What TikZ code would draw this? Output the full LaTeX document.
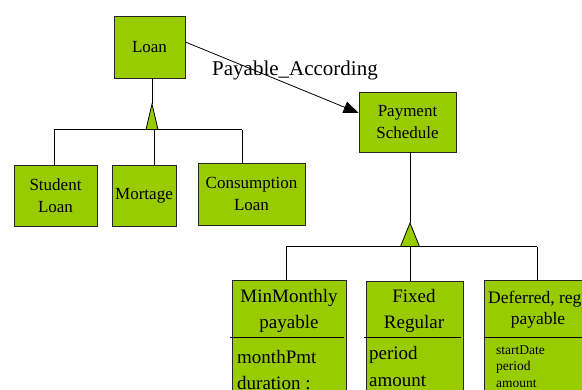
\documentclass[tikz,border=0pt]{standalone}
\usepackage{fontspec}
\setmainfont{Liberation Serif}
\usetikzlibrary{arrows.meta}
\definecolor{boxgreen}{HTML}{99CC00}
\begin{document}
\begin{tikzpicture}[x=1pt,y=-1pt,
  cls/.style={draw=black!85,line width=0.8pt,fill=boxgreen,rectangle,inner sep=0pt,align=center,font=\fontsize{17}{22}\selectfont},
  conn/.style={draw=black,line width=0.8pt},
  inher/.style={draw=black,line width=0.8pt,fill=boxgreen,line join=miter},
  bigtxt/.style={font=\fontsize{19}{26.5}\selectfont,align=center,inner sep=0pt},
  attr/.style={font=\fontsize{19}{26.5}\selectfont,align=left,inner sep=0pt,anchor=west},
  smallattr/.style={font=\fontsize{13.5}{16.5}\selectfont,align=left,inner sep=0pt,anchor=west},
  lbl/.style={font=\fontsize{21}{24}\selectfont,inner sep=0pt}]
\useasboundingbox (0,0) rectangle (582,389);
% upper part
\node[cls,minimum width=71pt,minimum height=62pt] (loan) at (149.5,47) {Loan};
\node[cls,minimum width=97pt,minimum height=60pt] (pay) at (407.5,122) {Payment\\Schedule};
\node[cls,minimum width=83pt,minimum height=61pt] (stud) at (55.5,195.5) {Student\\Loan};
\node[cls,minimum width=64pt,minimum height=61pt] (mort) at (144,195.5) {Mortage};
\node[cls,minimum width=107pt,minimum height=62pt] (cons) at (251.5,194) {Consumption\\Loan};
% association
\draw[conn,-{Triangle[length=15pt,width=12pt]}] ([yshift=5pt]loan.east) -- ([yshift=9pt]pay.west);
\node[lbl,anchor=base west] (assoc) at (212,75) {Payable\_According};
% inheritance 1
\coordinate (t1) at (152,104);
\coordinate (t1b) at (152,129.5);
\coordinate (barL) at (54,129.5);
\coordinate (barM) at (154,129.5);
\coordinate (barR) at (242,129.5);
\draw[conn] (loan.south -| t1) -- (t1);
\draw[conn] (barL) -- (barR);
\draw[conn] (barL) -- (barL |- stud.north);
\draw[conn] (barM) -- (barM |- mort.north);
\draw[conn] (barR) -- (barR |- cons.north);
\draw[inher] (t1) -- ([xshift=6pt]t1b) -- ([xshift=-6pt]t1b) -- cycle;
% lower part
\node[cls,minimum width=114pt,minimum height=120pt] (minm) at (289,340) {};
\node[cls,minimum width=97pt,minimum height=119pt] (fixd) at (414.5,340.5) {};
\node[cls,minimum width=116pt,minimum height=120pt] (defr) at (542,340) {};
\draw[conn] ([xshift=-2pt]minm.west |- 0,337) -- ([xshift=-2pt]minm.east |- 0,337);
\draw[conn] ([xshift=-2pt]fixd.west |- 0,337) -- ([xshift=-2pt]fixd.east |- 0,337);
\draw[conn] (defr.west |- 0,337) -- (defr.east |- 0,337);
\node[bigtxt] (minmT) at (289,311) {MinMonthly\\payable};
\node[bigtxt] (fixdT) at (414,311) {Fixed\\Regular};
\node[font=\fontsize{17.5}{21}\selectfont,inner sep=0pt,anchor=west] (defrT1) at (488,299) {Deferred, reg};
\node[font=\fontsize{17.5}{21}\selectfont,inner sep=0pt] (defrT2) at (538,320) {payable};
\node[attr] (minmA) at (237,370) {monthPmt\\duration :};
\node[attr] (fixdA) at (369,366.5) {period\\amount};
\node[smallattr] (defrA) at (496,366.5) {startDate\\period\\amount};
% inheritance 2
\coordinate (t2) at (410,223);
\coordinate (t2b) at (410,246.5);
\coordinate (bbL) at (286,246.5);
\coordinate (bbM) at (410,246.5);
\coordinate (bbR) at (537,246.5);
\draw[conn] (pay.south -| t2) -- (t2);
\draw[conn] (bbL) -- (bbR);
\draw[conn] (bbL) -- (bbL |- minm.north);
\draw[conn] (bbM) -- (bbM |- fixd.north);
\draw[conn] (bbR) -- (bbR |- defr.north);
\draw[inher] (t2) -- ([xshift=9.5pt]t2b) -- ([xshift=-9.5pt]t2b) -- cycle;
\end{tikzpicture}
\end{document}
